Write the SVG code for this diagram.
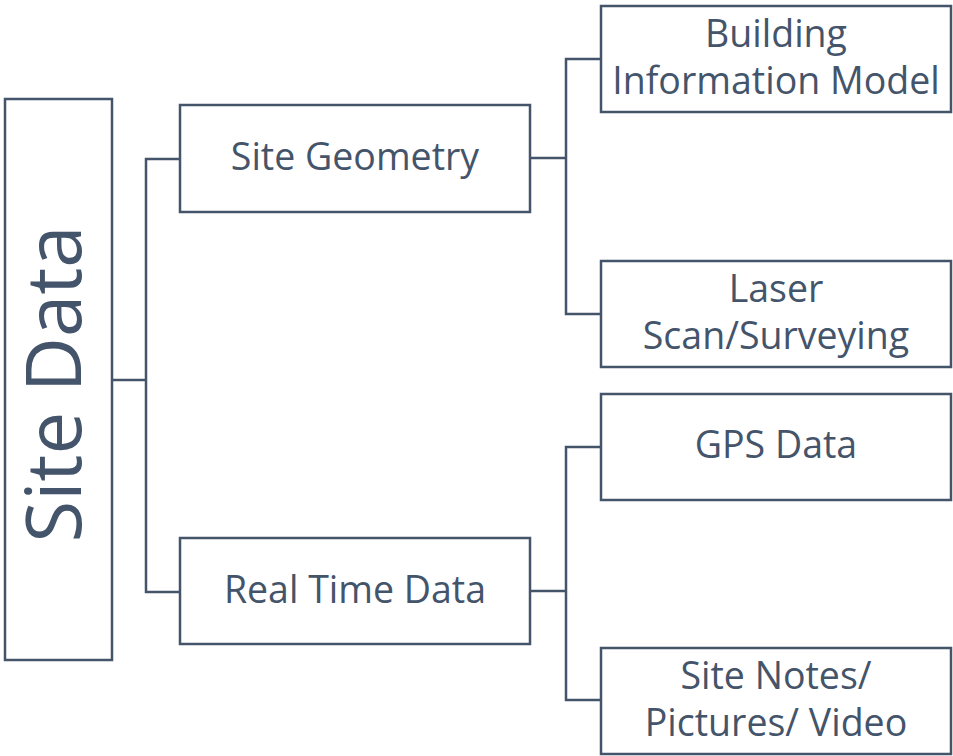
<svg xmlns="http://www.w3.org/2000/svg" width="953" height="756" viewBox="0 0 953 756">
<style>
.box{fill:#ffffff;stroke:#44546a;stroke-width:2.5}
.conn{fill:none;stroke:#44546a;stroke-width:2.5}
.t{font-family:"Open Sans","Liberation Sans",sans-serif;fill:#44546a;text-anchor:middle;font-size:37.5px}
.big{font-size:76px}
</style>
<rect width="953" height="756" fill="#ffffff"/>
<g id="connectors">
<polyline class="conn" points="112,380 146,380"/>
<polyline class="conn" points="180,159 146,159 146,592 180,592"/>
<polyline class="conn" points="530,158 566,158"/>
<polyline class="conn" points="601,59 566,59 566,314 601,314"/>
<polyline class="conn" points="530,591 566,591"/>
<polyline class="conn" points="601,447 566,447 566,700 601,700"/>
</g>
<g id="site-data">
<rect class="box" x="5" y="99" width="107" height="561"/>
<text class="t big" x="0" y="0" transform="translate(81,384) rotate(-90)">Site Data</text>
</g>
<g id="site-geometry">
<rect class="box" x="180" y="105" width="350" height="107"/>
<text class="t" x="355" y="170">Site Geometry</text>
</g>
<g id="real-time-data">
<rect class="box" x="180" y="538" width="350" height="106"/>
<text class="t" x="355" y="603">Real Time Data</text>
</g>
<g id="bim">
<rect class="box" x="601" y="6" width="350" height="106"/>
<text class="t" x="776" y="47">Building</text>
<text class="t" x="776" y="94">Information Model</text>
</g>
<g id="laser">
<rect class="box" x="601" y="261" width="350" height="106"/>
<text class="t" x="776" y="302">Laser</text>
<text class="t" x="776" y="349">Scan/Surveying</text>
</g>
<g id="gps">
<rect class="box" x="601" y="394" width="350" height="106"/>
<text class="t" x="776" y="458">GPS Data</text>
</g>
<g id="site-notes">
<rect class="box" x="601" y="648" width="350" height="106"/>
<text class="t" x="776" y="689">Site Notes/</text>
<text class="t" x="776" y="736">Pictures/ Video</text>
</g>
</svg>
